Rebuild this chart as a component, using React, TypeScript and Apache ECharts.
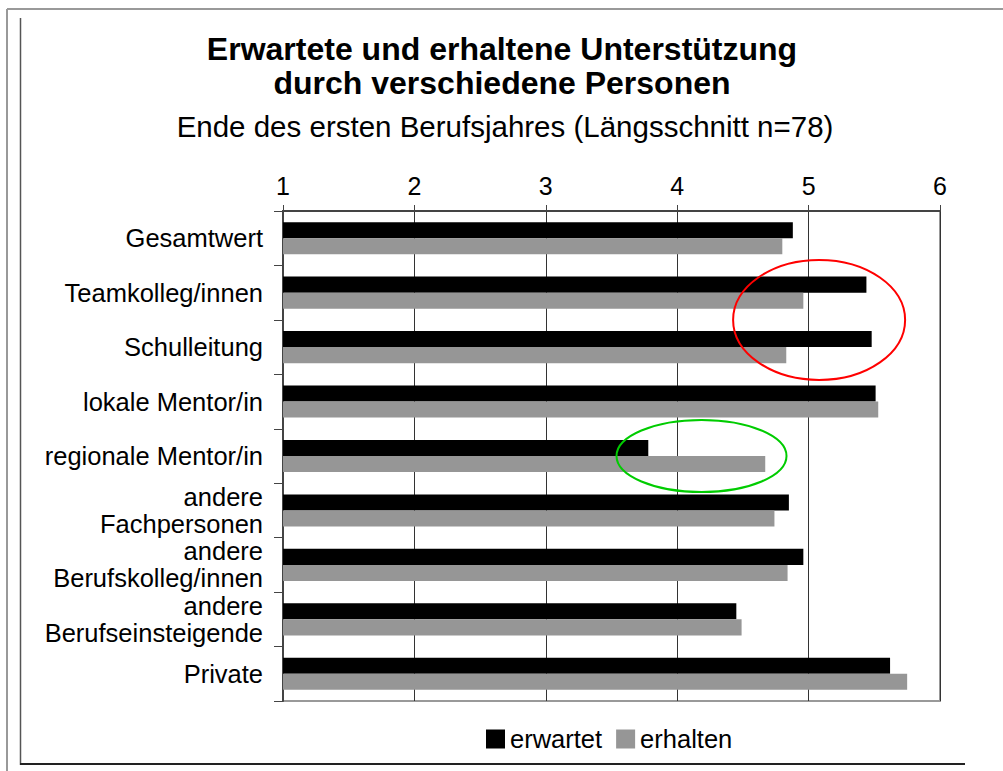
import React, { useEffect, useRef } from "react";
import * as echarts from "echarts";

const categories = [
  "Gesamtwert",
  "Teamkolleg/innen",
  "Schulleitung",
  "lokale Mentor/in",
  "regionale Mentor/in",
  "andere\nFachpersonen",
  "andere\nBerufskolleg/innen",
  "andere\nBerufseinsteigende",
  "Private",
];
const erwartet = [4.88, 5.44, 5.48, 5.51, 3.78, 4.85, 4.96, 4.45, 5.62];
const erhalten = [4.8, 4.96, 4.83, 5.53, 4.67, 4.74, 4.84, 4.49, 5.75];
const axisMin = 1;
const axisMax = 6;
const titleText = "Erwartete und erhaltene Unterstützung\ndurch verschiedene Personen";
const subtitleText = "Ende des ersten Berufsjahres (Längsschnitt n=78)";

const FONT = "'Liberation Sans', Arial, sans-serif";

export default function App() {
  const ref = useRef<HTMLDivElement>(null);
  useEffect(() => {
    document.body.style.margin = "0";
    if (!ref.current) return;
    const chart = echarts.init(ref.current, null, { renderer: "svg" });
    chart.setOption({
      animation: false,
      backgroundColor: "#fff",
      textStyle: { fontFamily: FONT },
      legend: {
        data: ["erwartet", "erhalten"],
        left: 481,
        top: 721,
        icon: "rect",
        itemWidth: 19,
        itemHeight: 19,
        itemGap: 14,
        textStyle: { fontSize: 25.5, color: "#000", fontFamily: FONT },
      },
      grid: {
        left: 283,
        right: 63,
        top: 211,
        bottom: 70,
        show: true,
        borderColor: "#999",
        borderWidth: 2,
        backgroundColor: "transparent",
      },
      xAxis: {
        type: "value",
        position: "top",
        min: axisMin,
        max: axisMax,
        interval: 1,
        axisLine: { show: true, lineStyle: { color: "#444", width: 2 } },
        axisTick: { show: true, length: 6, lineStyle: { color: "#444", width: 1 } },
        axisLabel: { fontSize: 25, color: "#000", margin: 13, fontFamily: FONT },
        splitLine: { show: true, lineStyle: { color: "#333", width: 1 } },
      },
      yAxis: {
        type: "category",
        inverse: true,
        data: categories,
        axisLine: { show: true, lineStyle: { color: "#444", width: 2 } },
        axisTick: { show: true, length: 9, lineStyle: { color: "#444", width: 1 } },
        axisLabel: { fontSize: 25.5, color: "#000", margin: 20, lineHeight: 27, align: "right", fontFamily: FONT },
        splitLine: { show: false },
      },
      series: [
        {
          name: "erwartet",
          type: "bar",
          data: erwartet,
          itemStyle: { color: "#000" },
          barGap: "0%",
          barCategoryGap: "41%",
        },
        {
          name: "erhalten",
          type: "bar",
          data: erhalten,
          itemStyle: { color: "#969696" },
          barGap: "0%",
          barCategoryGap: "41%",
        },
      ],
    });

    const red1 = chart.convertToPixel({ xAxisIndex: 0, yAxisIndex: 0 }, [5.08, 1]) as number[];
    const red2 = chart.convertToPixel({ xAxisIndex: 0, yAxisIndex: 0 }, [5.08, 2]) as number[];
    const green = chart.convertToPixel({ xAxisIndex: 0, yAxisIndex: 0 }, [4.185, 4]) as number[];

    chart.setOption({
      graphic: [
        { type: "line", shape: { x1: 7, y1: 9, x2: 1003, y2: 9 }, style: { stroke: "#999", lineWidth: 2 } },
        { type: "line", shape: { x1: 7, y1: 9, x2: 7, y2: 771 }, style: { stroke: "#999", lineWidth: 2 } },
        { type: "line", shape: { x1: 20.5, y1: 18, x2: 20.5, y2: 765 }, style: { stroke: "#555", lineWidth: 1.5 } },
        { type: "line", shape: { x1: 20, y1: 764, x2: 965, y2: 764 }, style: { stroke: "#222", lineWidth: 2 } },
        {
          type: "text",
          x: 502,
          y: 66,
          style: {
            text: titleText,
            textAlign: "center",
            textVerticalAlign: "middle",
            fontSize: 32,
            fontWeight: "bold",
            fontFamily: FONT,
            lineHeight: 34,
            fill: "#000",
          },
        },
        {
          type: "text",
          x: 505,
          y: 126,
          style: {
            text: subtitleText,
            textAlign: "center",
            textVerticalAlign: "middle",
            fontSize: 29.5,
            fontFamily: FONT,
            fill: "#000",
          },
        },
        {
          type: "ellipse",
          shape: { cx: red1[0], cy: (red1[1] + red2[1]) / 2, rx: 86, ry: 60 },
          style: { fill: "none", stroke: "#ff0000", lineWidth: 2 },
          z: 100,
        },
        {
          type: "ellipse",
          shape: { cx: green[0], cy: green[1], rx: 85, ry: 36 },
          style: { fill: "none", stroke: "#00cc00", lineWidth: 2 },
          z: 100,
        },
      ],
    });

    return () => chart.dispose();
  }, []);
  return <div ref={ref} style={{ width: 1003, height: 771 }} />;
}
